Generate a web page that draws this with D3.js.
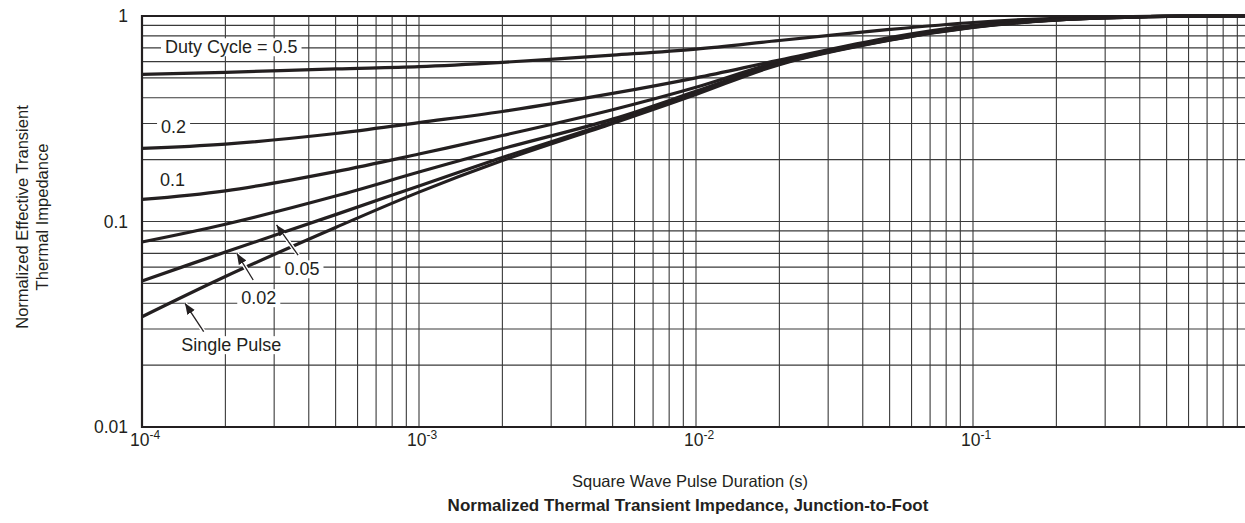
<html>
<script src='https://d3js.org/d3.v7.min.js'></script>
<style>
 body {margin:0; background:#fff;}
 text {font-family: "Liberation Sans", Arial, sans-serif; fill:#231f20;}
 .grid line {stroke:#3a3a3a; stroke-width:1.1;}
 .curve {fill:none; stroke:#231f20; stroke-width:3.2;}
</style>
<body onload='init()'>
<svg width=1245 height=523></svg>
<script>
// pulse duration (s) and normalized Zth for each duty cycle
var pulseDur = [1e-4, 2e-4, 5e-4, 1e-3, 2e-3, 5e-3, 1e-2, 2e-2, 5e-2, 1e-1, 2e-1, 5e-1, 1];
var duty05  = [0.52, 0.532, 0.553, 0.567, 0.595, 0.645, 0.69, 0.76, 0.86, 0.93, 0.975, 0.998, 1.0];
var duty02  = [0.227, 0.238, 0.268, 0.303, 0.343, 0.42, 0.5, 0.61, 0.785, 0.9, 0.965, 0.997, 1.0];
var duty01  = [0.128, 0.141, 0.175, 0.213, 0.262, 0.35, 0.45, 0.6, 0.775, 0.89, 0.96, 0.996, 1.0];
var duty005 = [0.0795, 0.097, 0.133, 0.174, 0.226, 0.315, 0.43, 0.59, 0.77, 0.885, 0.958, 0.996, 1.0];
var duty002 = [0.0514, 0.071, 0.108, 0.149, 0.205, 0.305, 0.42, 0.585, 0.765, 0.882, 0.956, 0.995, 1.0];
var single  = [0.0344, 0.054, 0.0935, 0.139, 0.198, 0.3, 0.415, 0.58, 0.762, 0.88, 0.955, 0.995, 1.0];

var xTicks = [1e-4, 1e-3, 1e-2, 1e-1];
var xTickExp = ["-4", "-3", "-2", "-1"];
var yTicks = [0.01, 0.1, 1];
var yTickLabels = ["0.01", "0.1", "1"];

// curve labels: [text, x, y] in data units (centre of text)
var curveLabels = [
  ["Duty Cycle = 0.5", 2.1e-4, 0.707],
  ["0.2", 1.3e-4, 0.288],
  ["0.1", 1.29e-4, 0.159],
  ["0.05", 3.78e-4, 0.0587],
  ["0.02", 2.64e-4, 0.0425],
  ["Single Pulse", 2.1e-4, 0.0251]
];
// arrows: [x0, y0, x1(tip), y1(tip)]
var arrows = [
  [3.66e-4, 0.0687, 3.06e-4, 0.0962],
  [2.52e-4, 0.0519, 2.2e-4, 0.070],
  [1.67e-4, 0.0291, 1.43e-4, 0.040]
];

function init() {
  var svg = d3.select("svg");
  var x = d3.scaleLog().domain([1e-4, 1]).range([142, 1250]);
  var y = d3.scaleLog().domain([0.01, 1]).range([427, 16]);

  var defs = svg.append("defs");
  defs.append("marker").attr("id", "ah").attr("viewBox", "0 0 10 10")
    .attr("refX", 10).attr("refY", 5).attr("markerWidth", 11).attr("markerHeight", 11)
    .attr("markerUnits", "userSpaceOnUse").attr("orient", "auto")
    .append("path").attr("d", "M0,1 L10,5 L0,9 Z").attr("fill", "#231f20");

  // minor grid values
  var xs = [], ys = [];
  [1e-4, 1e-3, 1e-2, 1e-1].forEach(function(d) { for (var k = 1; k < 10; k++) xs.push(d * k); });
  xs.push(1);
  [0.01, 0.1].forEach(function(d) { for (var k = 1; k < 10; k++) ys.push(d * k); });
  ys.push(1);

  var grid = svg.append("g").attr("class", "grid");
  grid.selectAll(".vx").data(xs).enter().append("line")
    .attr("x1", function(d) { return x(d); }).attr("x2", function(d) { return x(d); })
    .attr("y1", y(1)).attr("y2", y(0.01));
  grid.selectAll(".hy").data(ys).enter().append("line")
    .attr("x1", x(1e-4)).attr("x2", x(1))
    .attr("y1", function(d) { return y(d); }).attr("y2", function(d) { return y(d); });

  // frame
  svg.append("path").attr("d", "M" + x(1) + "," + y(1) + "H" + x(1e-4) + "V" + y(0.01) + "H" + x(1))
    .attr("fill", "none").attr("stroke", "#231f20").attr("stroke-width", 2.2);

  // label knock-outs
  var lab = svg.append("g");
  var labTexts = lab.selectAll("text").data(curveLabels).enter().append("text")
    .attr("x", function(d) { return x(d[1]); }).attr("y", function(d) { return y(d[2]); })
    .attr("dy", "0.35em").attr("text-anchor", "middle").style("font-size", "18px")
    .text(function(d) { return d[0]; });
  labTexts.each(function() {
    var b = this.getBBox();
    lab.insert("rect", "text").attr("x", b.x - 4).attr("y", b.y + 1)
      .attr("width", b.width + 8).attr("height", b.height - 2).attr("fill", "#fff");
  });

  var series = [duty05, duty02, duty01, duty005, duty002, single];
  var line = d3.line().curve(d3.curveCatmullRom.alpha(0.5))
    .x(function(d, i) { return x(pulseDur[i]); })
    .y(function(d) { return y(d); });
  svg.append("g").selectAll("path").data(series).enter().append("path")
    .attr("class", "curve").attr("d", line);

  // arrows with white halo
  var ar = svg.append("g");
  ar.selectAll(".halo").data(arrows).enter().append("line")
    .attr("x1", function(d) { return x(d[0]); }).attr("y1", function(d) { return y(d[1]); })
    .attr("x2", function(d) { return x(d[2]); }).attr("y2", function(d) { return y(d[3]); })
    .attr("stroke", "#fff").attr("stroke-width", 4);
  ar.selectAll(".arr").data(arrows).enter().append("line")
    .attr("x1", function(d) { return x(d[0]); }).attr("y1", function(d) { return y(d[1]); })
    .attr("x2", function(d) { return x(d[2]); }).attr("y2", function(d) { return y(d[3]); })
    .attr("stroke", "#231f20").attr("stroke-width", 1.3).attr("marker-end", "url(#ah)");

  lab.raise();

  // y tick labels
  svg.append("g").selectAll("text").data(yTicks).enter().append("text")
    .attr("x", 128).attr("y", function(d) { return y(d); }).attr("dy", "0.35em")
    .attr("text-anchor", "end").style("font-size", "17.5px")
    .text(function(d, i) { return yTickLabels[i]; });

  // x tick labels 10^n
  var xt = svg.append("g").selectAll("text").data(xTicks).enter().append("text")
    .attr("x", function(d) { return x(d) + 3; }).attr("y", 446)
    .attr("text-anchor", "middle").style("font-size", "17.5px");
  xt.append("tspan").text("10");
  xt.append("tspan").attr("dy", -7).style("font-size", "12px").text(function(d, i) { return xTickExp[i]; });

  svg.append("text").attr("x", 690).attr("y", 487).attr("text-anchor", "middle")
    .style("font-size", "16.5px").text("Square Wave Pulse Duration (s)");
  svg.append("text").attr("x", 688).attr("y", 511).attr("text-anchor", "middle")
    .style("font-size", "17px").style("font-weight", "bold")
    .text("Normalized Thermal Transient Impedance, Junction-to-Foot");

  var yt = svg.append("g").attr("transform", "translate(0,217) rotate(-90)");
  yt.append("text").attr("x", 0).attr("y", 28).attr("text-anchor", "middle")
    .style("font-size", "16.5px").text("Normalized Effective Transient");
  yt.append("text").attr("x", 0).attr("y", 48).attr("text-anchor", "middle")
    .style("font-size", "16.5px").text("Thermal Impedance");
}
</script>
</body>
</html>
